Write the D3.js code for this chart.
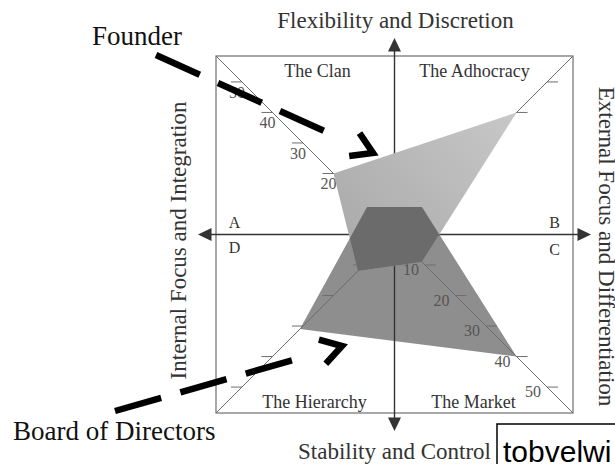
<!DOCTYPE html>
<html>
<head>
<meta charset="utf-8">
<script src="https://cdn.jsdelivr.net/npm/d3@7/dist/d3.min.js"></script>
<style>
html, body { margin:0; padding:0; background:#fff; overflow:hidden; }
svg { display:block; }
</style>
</head>
<body>
<div id="plot"></div>
<script>
/* values, quadrant order: top-left, top-right, bottom-right, bottom-left */
var quadrants = ["The Clan", "The Adhocracy", "The Market", "The Hierarchy"];
var founder = [20, 40, 9, 12];
var board = [9, 9, 40, 31];
var tickValues = [10, 20, 30, 40, 50];
var cornerLetters = ["A", "B", "C", "D"];
var axisTitles = ["Flexibility and Discretion", "External Focus and Differentiation",
                  "Stability and Control", "Internal Focus and Integration"];

var width = 615, height = 464;
var cx = 394.5, cy = 234.5, half = 178.5;
var serif = "'Liberation Serif', 'Times New Roman', serif";

var svg = d3.select('#plot')
    .append('svg')
    .attr('width', width)
    .attr('height', height);

var r = d3.scaleLinear().domain([0, 58.5]).range([0, half]);
var dirs = [[-1,-1], [1,-1], [1,1], [-1,1]];
function pt(v, i){ return [cx + dirs[i][0]*r(v), cy + dirs[i][1]*r(v)]; }
function poly(vals){ return vals.map(function(v,i){ return pt(v,i); }); }
var line = d3.line().curve(d3.curveLinearClosed);

var defs = svg.append('defs');
var grad = defs.append('linearGradient')
    .attr('id','fGrad').attr('gradientUnits','userSpaceOnUse')
    .attr('x1',520).attr('y1',110).attr('x2',340).attr('y2',270);
grad.append('stop').attr('offset',0).attr('stop-color','#c8c8c8');
grad.append('stop').attr('offset',1).attr('stop-color','#a8a8a8');
defs.append('clipPath').attr('id','fClip')
    .append('path').attr('d', line(poly(founder)));

/* board polygon under the lines */
svg.append('path')
    .attr('d', line(poly(board)))
    .style('fill','#8e8e8e');

/* square and diagonals */
svg.append('rect')
    .attr('x', cx-half).attr('y', cy-half)
    .attr('width', half*2).attr('height', half*2)
    .style('fill','none').style('stroke','#6e6e6e').style('stroke-width',1.2);

var diag = svg.append('g');
[0,1].forEach(function(i){
    var a = pt(58.5, i), b = pt(58.5, i+2);
    diag.append('line')
        .attr('x1',a[0]).attr('y1',a[1]).attr('x2',b[0]).attr('y2',b[1])
        .style('stroke','#6e6e6e').style('stroke-width',1);
});

/* ticks on each diagonal */
[0,1,2,3].forEach(function(i){
    var side = dirs[i][0];
    diag.selectAll('.tick'+i)
        .data(tickValues)
        .enter()
        .append('line')
        .attr('x1', function(d){ return pt(d,i)[0]; })
        .attr('x2', function(d){ return pt(d,i)[0] + side*11; })
        .attr('y1', function(d){ return pt(d,i)[1]; })
        .attr('y2', function(d){ return pt(d,i)[1]; })
        .style('stroke','#6e6e6e').style('stroke-width',1);
});

diag.selectAll('.lblTL')
    .data(tickValues)
    .enter()
    .append('text')
    .attr('x', function(d){ return pt(d,0)[0] + 3; })
    .attr('y', function(d){ return pt(d,0)[1] + 16; })
    .attr('text-anchor','end')
    .style('font-family', serif).style('font-size','16px').style('fill','#555')
    .text(function(d){ return d; });

diag.selectAll('.lblBR')
    .data(tickValues)
    .enter()
    .append('text')
    .attr('x', function(d){ return pt(d,2)[0] - 6; })
    .attr('y', function(d){ return pt(d,2)[1] + 10; })
    .attr('text-anchor','end')
    .style('font-family', serif).style('font-size','16px').style('fill','#555')
    .text(function(d){ return d; });

/* main axes with arrow heads */
var ax = svg.append('g');
ax.append('line').attr('x1',cx).attr('x2',cx).attr('y1',cy-186).attr('y2',cy+186)
    .style('stroke','#333').style('stroke-width',1.4);
ax.append('line').attr('x1',cx-186).attr('x2',cx+186).attr('y1',cy).attr('y2',cy)
    .style('stroke','#333').style('stroke-width',1.4);
var heads = [[0,-1],[1,0],[0,1],[-1,0]];
heads.forEach(function(h){
    var tip = [cx + h[0]*196.5, cy + h[1]*196.5];
    var base = [cx + h[0]*183, cy + h[1]*183];
    var px = -h[1]*6.5, py = h[0]*6.5;
    ax.append('path')
        .attr('d','M'+tip+'L'+(base[0]+px)+','+(base[1]+py)+'L'+(base[0]-px)+','+(base[1]-py)+'Z')
        .style('fill','#333');
});

/* founder on top, overlap darker */
svg.append('path')
    .attr('d', line(poly(founder)))
    .style('fill','url(#fGrad)');
svg.append('path')
    .attr('d', line(poly(board)))
    .attr('clip-path','url(#fClip)')
    .style('fill','#6b6b6b');

/* quadrant names */
var qPos = [[-77,-157.5],[80,-157.5],[79,173.5],[-80,173.5]];
svg.selectAll('.quad')
    .data(quadrants)
    .enter()
    .append('text')
    .attr('x', function(d,i){ return cx + qPos[i][0]; })
    .attr('y', function(d,i){ return cy + qPos[i][1]; })
    .attr('text-anchor','middle')
    .style('font-family', serif).style('font-size','18px').style('fill','#333')
    .text(function(d){ return d; });

/* letters */
var lPos = [[-160,-6.5],[160,-6.5],[160,20],[-160,18.5]];
svg.selectAll('.letter')
    .data(cornerLetters)
    .enter()
    .append('text')
    .attr('x', function(d,i){ return cx + lPos[i][0]; })
    .attr('y', function(d,i){ return cy + lPos[i][1]; })
    .attr('text-anchor','middle')
    .style('font-family', serif).style('font-size','16px').style('fill','#333')
    .text(function(d){ return d; });

/* axis titles */
var titleFont = {'font-family': serif, 'font-size':'23px', 'fill':'#333'};
function styled(sel){ for (var k in titleFont) sel.style(k, titleFont[k]); return sel; }
styled(svg.append('text').attr('x',cx+1).attr('y',28).attr('text-anchor','middle').text(axisTitles[0]));
styled(svg.append('text').attr('text-anchor','middle')
    .attr('transform','translate(599,'+(cy+12)+') rotate(90)').text(axisTitles[1]));
styled(svg.append('text').attr('x',cx).attr('y',459).attr('text-anchor','middle').text(axisTitles[2]));
styled(svg.append('text').attr('text-anchor','middle')
    .attr('transform','translate(186,'+(cy+6)+') rotate(-90)').text(axisTitles[3]));

/* dashed annotation arrows */
var notes = [
    {name:"Founder", from:[156,55], tip:[373,153], label:[92,45]},
    {name:"Board of Directors", from:[115,411], tip:[342,346], label:[13,440]}
];
notes.forEach(function(n){
    var dx = n.tip[0]-n.from[0], dy = n.tip[1]-n.from[1];
    var L = Math.sqrt(dx*dx+dy*dy), ux = dx/L, uy = dy/L;
    svg.append('line')
        .attr('x1',n.from[0]).attr('y1',n.from[1])
        .attr('x2',n.from[0]+ux*184).attr('y2',n.from[1]+uy*184)
        .style('stroke','#000').style('stroke-width',6.5)
        .style('stroke-dasharray','48 20');
    var a = Math.atan2(uy,ux) + Math.PI, s = 0.55, len = 24;
    var p1 = [n.tip[0]+Math.cos(a+s)*len, n.tip[1]+Math.sin(a+s)*len];
    var p2 = [n.tip[0]+Math.cos(a-s)*len, n.tip[1]+Math.sin(a-s)*len];
    svg.append('path')
        .attr('d','M'+p1+'L'+n.tip+'L'+p2)
        .style('fill','none').style('stroke','#000').style('stroke-width',6.5)
        .style('stroke-linejoin','miter');
    svg.append('text')
        .attr('x',n.label[0]).attr('y',n.label[1])
        .style('font-family', serif).style('font-size','27px').style('fill','#111')
        .text(n.name);
});

/* stray text box at the bottom right */
svg.append('rect').attr('x',497).attr('y',424).attr('width',140).attr('height',60)
    .style('fill','#fff').style('stroke','#000').style('stroke-width',1.5);
svg.append('text').attr('x',503).attr('y',462)
    .style('font-family',"'Liberation Sans', Arial, sans-serif").style('font-size','30px').style('fill','#000')
    .text('tobvelwi');
</script>
</body>
</html>
